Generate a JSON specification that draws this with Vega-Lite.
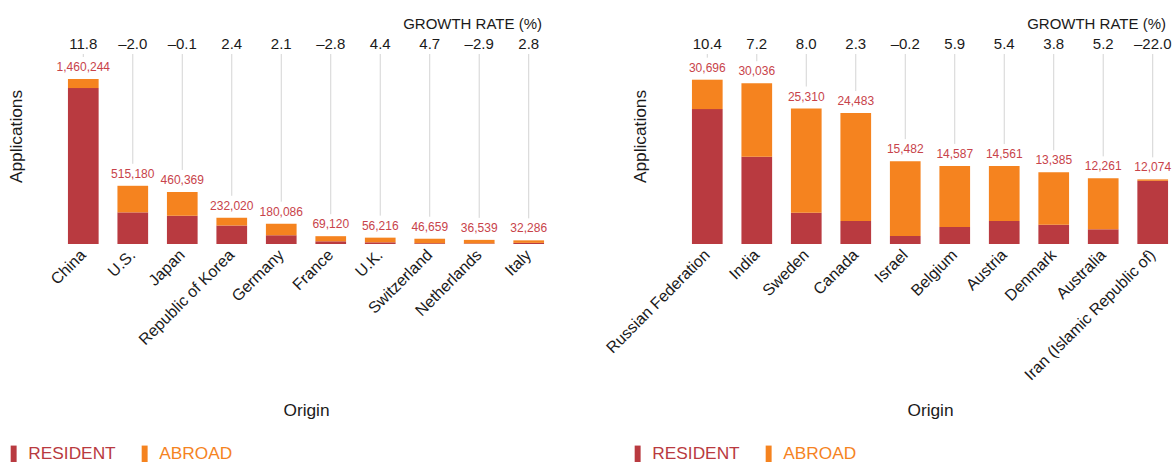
{
  "$schema": "https://vega.github.io/schema/vega-lite/v6.json",
  "background": "white",
  "padding": {"left": 5, "top": 17, "right": 1, "bottom": 0},
  "spacing": 54,
  "config": {
    "font": "Liberation Sans",
    "view": {"stroke": null},
    "title": {"fontSize": 15, "fontWeight": "normal", "color": "#1a1a1a", "anchor": "end", "frame": "group", "baseline": "alphabetic", "offset": 3, "dx": -7},
    "axisX": {"labelAngle": -45, "labelAlign": "right", "labelBaseline": "middle", "labelPadding": 8, "labelFontSize": 16, "labelColor": "#1a1a1a", "ticks": false, "domain": false, "grid": false, "titleFontSize": 17.3, "titleFontWeight": "normal", "titleColor": "#1a1a1a", "titleY": 171, "titleBaseline": "alphabetic"},
    "axisY": {"labels": false, "ticks": false, "domain": false, "grid": false, "titleFontSize": 17.3, "titleFontWeight": "normal", "titleColor": "#1a1a1a", "titlePadding": 38, "titleY": 101},
    "legend": {
      "orient": "none", "legendX": -58, "legendY": 410, "direction": "horizontal", "title": null,
      "symbolType": "M-0.35,-1H0.35V1H-0.35Z", "symbolSize": 289, "symbolStrokeWidth": 0,
      "labelFontSize": 17.3, "labelOffset": 6, "columnPadding": 20, "padding": 0
    }
  },
  "resolve": {"scale": {"color": "independent", "y": "independent"}, "legend": {"color": "independent"}},
  "hconcat": [
    {
      "width": 486, "height": 209,
      "title": {"text": "GROWTH RATE (%)"},
      "data": {"values": [
        {"origin": "China", "RESIDENT": 1380000, "ABROAD": 80244, "total": 1460244, "growth": "11.8"},
        {"origin": "U.S.", "RESIDENT": 280000, "ABROAD": 235180, "total": 515180, "growth": "–2.0"},
        {"origin": "Japan", "RESIDENT": 250000, "ABROAD": 210369, "total": 460369, "growth": "–0.1"},
        {"origin": "Republic of Korea", "RESIDENT": 163000, "ABROAD": 69020, "total": 232020, "growth": "2.4"},
        {"origin": "Germany", "RESIDENT": 77000, "ABROAD": 103086, "total": 180086, "growth": "2.1"},
        {"origin": "France", "RESIDENT": 24000, "ABROAD": 45120, "total": 69120, "growth": "–2.8"},
        {"origin": "U.K.", "RESIDENT": 15000, "ABROAD": 41216, "total": 56216, "growth": "4.4"},
        {"origin": "Switzerland", "RESIDENT": 7000, "ABROAD": 39659, "total": 46659, "growth": "4.7"},
        {"origin": "Netherlands", "RESIDENT": 5000, "ABROAD": 31539, "total": 36539, "growth": "–2.9"},
        {"origin": "Italy", "RESIDENT": 10000, "ABROAD": 22286, "total": 32286, "growth": "2.8"}
      ]},
      "encoding": {
        "x": {"field": "origin", "type": "nominal", "sort": null, "title": "Origin", "scale": {"paddingInner": 0.38, "paddingOuter": 0.1}}
      },
      "layer": [
        {
          "transform": [{"fold": ["RESIDENT", "ABROAD"], "as": ["type", "value"]}],
          "mark": {"type": "bar"},
          "encoding": {
            "y": {"field": "value", "type": "quantitative", "stack": "zero", "title": "Applications", "scale": {"domain": [0, 1849600], "nice": false}},
            "color": {"field": "type", "type": "nominal", "scale": {"domain": ["RESIDENT", "ABROAD"], "range": ["#b93a40", "#f5831f"]},
              "legend": {"encode": {"labels": {"update": {"fill": {"signal": "datum.value === 'RESIDENT' ? '#b93a40' : '#f5831f'"}}}}}},
            "order": {"field": "type", "sort": "descending"}
          }
        },
        {
          "mark": {"type": "rule", "color": "#d4d4d4", "strokeWidth": 1, "yOffset": -22},
          "encoding": {"y": {"field": "total", "type": "quantitative"}, "y2": {"datum": 1681400}}
        },
        {
          "mark": {"type": "text", "fontSize": 12, "color": "#c8434a", "baseline": "alphabetic", "dy": -8},
          "encoding": {"y": {"field": "total", "type": "quantitative"}, "text": {"field": "total", "type": "quantitative", "format": ","}}
        },
        {
          "mark": {"type": "text", "fontSize": 15, "color": "#1a1a1a", "baseline": "alphabetic"},
          "encoding": {"y": {"datum": 1722000}, "text": {"field": "growth", "type": "nominal"}}
        }
      ]
    },
    {
      "width": 486, "height": 209,
      "title": {"text": "GROWTH RATE (%)"},
      "data": {"values": [
        {"origin": "Russian Federation", "RESIDENT": 25200, "ABROAD": 5496, "total": 30696, "growth": "10.4"},
        {"origin": "India", "RESIDENT": 16300, "ABROAD": 13736, "total": 30036, "growth": "7.2"},
        {"origin": "Sweden", "RESIDENT": 5850, "ABROAD": 19460, "total": 25310, "growth": "8.0"},
        {"origin": "Canada", "RESIDENT": 4300, "ABROAD": 20183, "total": 24483, "growth": "2.3"},
        {"origin": "Israel", "RESIDENT": 1500, "ABROAD": 13982, "total": 15482, "growth": "–0.2"},
        {"origin": "Belgium", "RESIDENT": 3180, "ABROAD": 11407, "total": 14587, "growth": "5.9"},
        {"origin": "Austria", "RESIDENT": 4300, "ABROAD": 10261, "total": 14561, "growth": "5.4"},
        {"origin": "Denmark", "RESIDENT": 3600, "ABROAD": 9785, "total": 13385, "growth": "3.8"},
        {"origin": "Australia", "RESIDENT": 2750, "ABROAD": 9511, "total": 12261, "growth": "5.2"},
        {"origin": "Iran (Islamic Republic of)", "RESIDENT": 11800, "ABROAD": 274, "total": 12074, "growth": "–22.0"}
      ]},
      "encoding": {
        "x": {"field": "origin", "type": "nominal", "sort": null, "title": "Origin", "scale": {"paddingInner": 0.38, "paddingOuter": 0.1}}
      },
      "layer": [
        {
          "transform": [{"fold": ["RESIDENT", "ABROAD"], "as": ["type", "value"]}],
          "mark": {"type": "bar"},
          "encoding": {
            "y": {"field": "value", "type": "quantitative", "stack": "zero", "title": "Applications", "scale": {"domain": [0, 39047], "nice": false}},
            "color": {"field": "type", "type": "nominal", "scale": {"domain": ["RESIDENT", "ABROAD"], "range": ["#b93a40", "#f5831f"]},
              "legend": {"encode": {"labels": {"update": {"fill": {"signal": "datum.value === 'RESIDENT' ? '#b93a40' : '#f5831f'"}}}}}},
            "order": {"field": "type", "sort": "descending"}
          }
        },
        {
          "mark": {"type": "rule", "color": "#d4d4d4", "strokeWidth": 1, "yOffset": -22},
          "encoding": {"y": {"field": "total", "type": "quantitative"}, "y2": {"datum": 35497}}
        },
        {
          "mark": {"type": "text", "fontSize": 12, "color": "#c8434a", "baseline": "alphabetic", "dy": -8},
          "encoding": {"y": {"field": "total", "type": "quantitative"}, "text": {"field": "total", "type": "quantitative", "format": ","}}
        },
        {
          "mark": {"type": "text", "fontSize": 15, "color": "#1a1a1a", "baseline": "alphabetic"},
          "encoding": {"y": {"datum": 36350}, "text": {"field": "growth", "type": "nominal"}}
        }
      ]
    }
  ]
}
